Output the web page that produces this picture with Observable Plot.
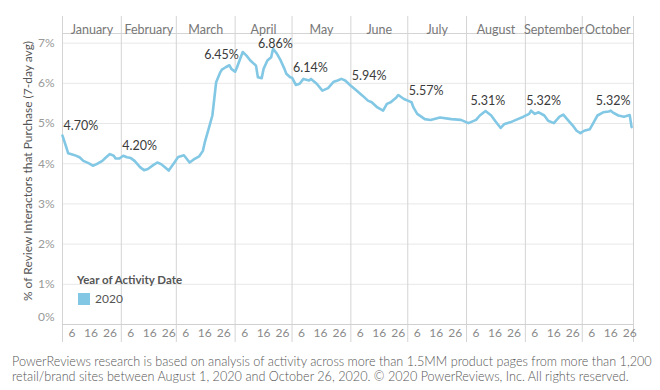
<!DOCTYPE html>
<html><head><meta charset="utf-8">
<script src="https://cdn.jsdelivr.net/npm/d3@7"></script>
<script src="https://cdn.jsdelivr.net/npm/@observablehq/plot@0.6"></script>
<style>
body{margin:0;background:#fff;font-family:Lato, "Open Sans", sans-serif;}
#wrap{position:relative;width:660px;height:390px;overflow:hidden;}
#chart{position:absolute;left:0;top:0;}
#legend{position:absolute;left:77px;top:272px;color:#555;}
#legend .title{font-weight:bold;font-size:11.5px;line-height:16px;}
#legend .item{display:flex;align-items:center;margin-top:3px;font-size:12px;}
#legend .sw{width:12px;height:12px;background:#82c8e5;margin-left:1px;margin-right:5px;}
#caption{position:absolute;left:12px;top:355px;width:648px;font-size:12.65px;line-height:14.5px;color:#555;font-weight:300;white-space:nowrap;}
</style></head><body>
<div id="wrap">
<div id="chart"></div>
<div id="legend"><div class="title"></div><div class="item"><div class="sw"></div><span id="yr"></span></div></div>
<div id="caption"><div id="cap1"></div><div id="cap2"></div></div>
</div>
<script>
const dates = ["2020-01-01","2020-01-03","2020-01-04","2020-01-07","2020-01-10","2020-01-12","2020-01-15","2020-01-17","2020-01-19","2020-01-22","2020-01-24","2020-01-26","2020-01-28","2020-01-29","2020-01-31",
"2020-02-02","2020-02-04","2020-02-06","2020-02-08","2020-02-11","2020-02-13","2020-02-15","2020-02-18","2020-02-20","2020-02-22","2020-02-24","2020-02-26","2020-02-29",
"2020-03-02","2020-03-05","2020-03-08","2020-03-10","2020-03-13","2020-03-15","2020-03-16","2020-03-18","2020-03-20","2020-03-21","2020-03-22","2020-03-24","2020-03-25","2020-03-27","2020-03-29","2020-03-30",
"2020-04-01","2020-04-02","2020-04-05","2020-04-07","2020-04-09","2020-04-12","2020-04-13","2020-04-15","2020-04-16","2020-04-18","2020-04-20","2020-04-21","2020-04-23","2020-04-25","2020-04-27","2020-04-28","2020-04-30",
"2020-05-01","2020-05-03","2020-05-05","2020-05-07","2020-05-10","2020-05-11","2020-05-14","2020-05-17","2020-05-20","2020-05-23","2020-05-25","2020-05-27","2020-05-29",
"2020-06-01","2020-06-04","2020-06-07","2020-06-10","2020-06-12","2020-06-15","2020-06-18","2020-06-20","2020-06-22","2020-06-25","2020-06-26","2020-06-29",
"2020-07-01","2020-07-03","2020-07-04","2020-07-06","2020-07-10","2020-07-13","2020-07-18","2020-07-24","2020-07-29",
"2020-08-02","2020-08-06","2020-08-08","2020-08-11","2020-08-14","2020-08-16","2020-08-19","2020-08-21","2020-08-24","2020-08-28","2020-08-31",
"2020-09-03","2020-09-04","2020-09-06","2020-09-08","2020-09-11","2020-09-13","2020-09-16","2020-09-19","2020-09-21","2020-09-23","2020-09-26","2020-09-28","2020-09-30",
"2020-10-02","2020-10-05","2020-10-07","2020-10-09","2020-10-12","2020-10-15","2020-10-16","2020-10-17","2020-10-20","2020-10-23","2020-10-26","2020-10-27"];
const values = [4.70,4.41,4.26,4.22,4.16,4.07,4.01,3.95,3.99,4.07,4.16,4.24,4.20,4.13,4.13,
4.20,4.16,4.14,4.07,3.91,3.84,3.87,3.97,4.03,3.99,3.91,3.83,4.03,
4.17,4.21,4.03,4.10,4.18,4.32,4.53,4.86,5.20,5.61,6.03,6.26,6.34,6.40,6.45,6.36,
6.29,6.40,6.78,6.69,6.57,6.44,6.15,6.13,6.36,6.57,6.65,6.86,6.74,6.57,6.36,6.24,6.15,
6.14,5.96,5.99,6.11,6.07,6.11,5.99,5.82,5.88,6.04,6.07,6.11,6.07,
5.94,5.82,5.70,5.57,5.53,5.40,5.32,5.49,5.53,5.65,5.71,5.61,
5.57,5.53,5.40,5.24,5.11,5.09,5.15,5.11,5.09,
5.01,5.09,5.20,5.31,5.20,5.07,4.89,4.99,5.03,5.11,5.17,
5.24,5.32,5.24,5.28,5.20,5.07,5.01,5.17,5.22,5.11,4.95,4.82,4.76,
4.82,4.86,5.03,5.20,5.28,5.30,5.32,5.28,5.20,5.17,5.21,4.91];
const monthNames = ["January","February","March","April","May","June","July","August","September","October"];
const dayTicks = [6,16,26];
const yTicks = [0,1,2,3,4,5,6,7];
const yTitle = "% of Review Interactors that Purchase (7-day avg)";
const legendTitle = "Year of Activity Date";
const legendYear = "2020";
const captionLines = ["PowerReviews research is based on analysis of activity across more than 1.5MM product pages from more than 1,200",
"retail/brand sites between August 1,  2020 and October 26, 2020. © 2020 PowerReviews, Inc. All rights reserved."];

const data = dates.map((d,i)=>({date:new Date(d+"T00:00:00Z"), value:values[i]}));
const W=660, H=350, mL=62, mR=27, mT=33, mB=26;
const xDomain=[new Date(Date.UTC(2020,0,1)), new Date(Date.UTC(2020,9,28))];
const yDomain=[0,7.24];
const monthStarts = monthNames.map((_,m)=>new Date(Date.UTC(2020,m,1)));
const paneEdges = [...monthStarts, xDomain[1]];
const months = monthNames.map((name,i)=>({name, mid:new Date((+paneEdges[i] + +paneEdges[i+1])/2)}));
const ticks = monthStarts.flatMap(m => dayTicks.map(d=>new Date(Date.UTC(2020,m.getUTCMonth(),d))));
const xs = Plot.scale({x:{type:"utc",domain:xDomain,range:[mL,W-mR]}});
const ys = Plot.scale({y:{type:"linear",domain:yDomain,range:[H-mB,mT]}});

const peaks = d3.groups(data, d=>d.date.getUTCMonth()).map(([m,arr])=>d3.greatest(arr,d=>d.value));
const labelMarks = peaks.map(p => {
  const txt = p.value.toFixed(2)+"%";
  const m = p.date.getUTCMonth();
  const px = xs.apply(p.date), py = ys.apply(p.value);
  const w = 30;
  let left = px - w/2;
  const a = xs.apply(paneEdges[m])+1, b = xs.apply(paneEdges[m+1])-1;
  if (left < a) left = a;
  if (left + w > b) left = b - w;
  let cy = py - 10;
  if (cy < mT + 10) cy = mT + 10;
  return Plot.text([p], {x:"date", y:"value", text:()=>txt, textAnchor:"start", dx:left-px, dy:cy-py, fontSize:12.5, fill:"#3a3a3a"});
});

const chart = Plot.plot({
  width:W, height:H, marginLeft:mL, marginRight:mR, marginTop:mT, marginBottom:mB,
  style:{fontFamily:"Lato, 'Open Sans', sans-serif", background:"transparent"},
  x:{type:"utc", domain:xDomain},
  y:{domain:yDomain},
  marks:[
    Plot.gridY(yTicks.slice(1), {stroke:"#e8e8e8", strokeOpacity:1}),
    Plot.ruleX(paneEdges, {stroke:"#d4d4d4", insetTop:-17, insetBottom:-18}),
    Plot.ruleY([0], {stroke:"#d0d0d0"}),
    Plot.frame({anchor:"top", stroke:"#d4d4d4"}),
    Plot.text(months, {x:"mid", text:"name", frameAnchor:"top", dy:-8, fill:"#777", fontSize:12.5}),
    Plot.axisX(ticks, {tickSize:0, tickPadding:4, tickFormat:d=>d.getUTCDate(), fill:"#8a8a8a", fontSize:12, label:null}),
    Plot.axisY(yTicks.slice(1), {tickSize:0, tickPadding:8, tickFormat:d=>d+"%", fill:"#999", fontSize:12, label:null}),
    Plot.axisY([0], {tickSize:0, tickPadding:8, tickFormat:d=>d+"%", fill:"#999", fontSize:12, label:null, dy:-7}),
    Plot.text([yTitle], {text:d=>d, frameAnchor:"left", textAnchor:"middle", rotate:-90, dx:-34, dy:-8, fill:"#555", fontSize:12}),
    Plot.line(data,{x:"date",y:"value",stroke:"#82c8e5",strokeWidth:2.6}),
    ...labelMarks
  ]
});
document.getElementById("chart").appendChild(chart);
document.querySelector("#legend .title").textContent = legendTitle;
document.getElementById("yr").textContent = legendYear;
document.getElementById("cap1").textContent = captionLines[0];
document.getElementById("cap2").textContent = captionLines[1];
</script>
</body></html>
